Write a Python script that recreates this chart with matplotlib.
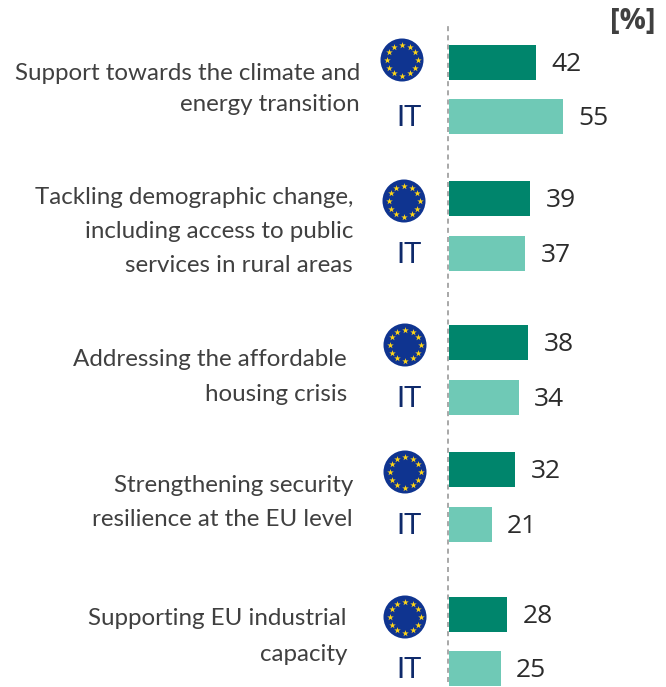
import matplotlib
matplotlib.use('Agg')
import matplotlib.pyplot as plt
from matplotlib.patches import Circle
import numpy as np

# [%] of respondents
labels = [
    'Support towards the climate and\nenergy transition',
    'Tackling demographic change,\nincluding access to public\nservices in rural areas',
    'Addressing the affordable\nhousing crisis',
    'Strengthening security\nresilience at the EU level',
    'Supporting EU industrial\ncapacity',
]
eu_values = [42, 39, 38, 32, 28]
it_values = [55, 37, 34, 21, 25]

# layout, in pixels from the top of the picture
eu_y = [62.5, 198.5, 342.5, 469.5, 614.5]
it_y = [116.5, 253.5, 397.5, 524.5, 668.5]
label_right = [360, 353, 347, 353, 347]
label_y = [89, 231.5, 377, 502.5, 636.5]
label_gap = [1.54, 1.77, 1.77, 1.77, 1.85]
flag_x = [402, 404, 405, 405, 405]
flag_y = [60, 201, 345, 472, 617]
it_x = [409, 409, 409, 409, 409]

W, H = 666, 687
PX = 2.08
ZERO = 448.5
SANS = ['Lato', 'DejaVu Sans']
NUM = ['Open Sans', 'DejaVu Sans']

plt.rcParams['font.family'] = SANS

fig = plt.figure(figsize=(W / 100, H / 100), dpi=100)

# bars live in value units on x
ax = fig.add_axes([0, 0, 1, 1])
ax.set_xlim(-ZERO / PX, (W - ZERO) / PX)
ax.set_ylim(H, 0)
ax.axis('off')
ax.barh(eu_y, eu_values, height=35, color='#00856C')
ax.barh(it_y, it_values, height=35, color='#6FC9B6')
ax.axvline(-0.2, ymin=1 - 682 / H, ymax=1 - 24 / H, color='#999999', lw=1.2, ls=(0, (3, 2.5)))

for y, v in zip(eu_y, eu_values):
    ax.annotate(str(v), (v, y + 2), xytext=(16, 0), textcoords='offset pixels', va='center',
                fontsize=19, color='#2b2b2b', family=NUM)
for y, v in zip(it_y, it_values):
    ax.annotate(str(v), (v, y + 2), xytext=(15, 0), textcoords='offset pixels', va='center',
                fontsize=19, color='#2b2b2b', family=NUM)

# text and flags in pixel coordinates
ov = fig.add_axes([0, 0, 1, 1])
ov.set_xlim(0, W)
ov.set_ylim(H, 0)
ov.axis('off')
ov.patch.set_alpha(0)

for s, x, y, g in zip(labels, label_right, label_y, label_gap):
    ov.text(x, y, s, ha='right', va='center', fontsize=17.4, color='#404040', linespacing=g)

for x, y in zip(flag_x, flag_y):
    ov.add_patch(Circle((x, y), 21.5, color='#0F3490', lw=0))
    a = np.arange(12) * np.pi / 6
    ov.scatter(x + 15.5 * np.cos(a), y + 15.5 * np.sin(a), marker='*', s=24, color='#FFD617', lw=0)

for x, y in zip(it_x, it_y):
    ov.text(x, y + 1.5, 'IT', ha='center', va='center', fontsize=21, color='#0F2A6B')

ov.text(655, 21, '[%]', ha='right', va='center', fontsize=21, fontweight='bold',
        color='#404040', family=NUM)

fig.savefig('out.png', dpi=100)
